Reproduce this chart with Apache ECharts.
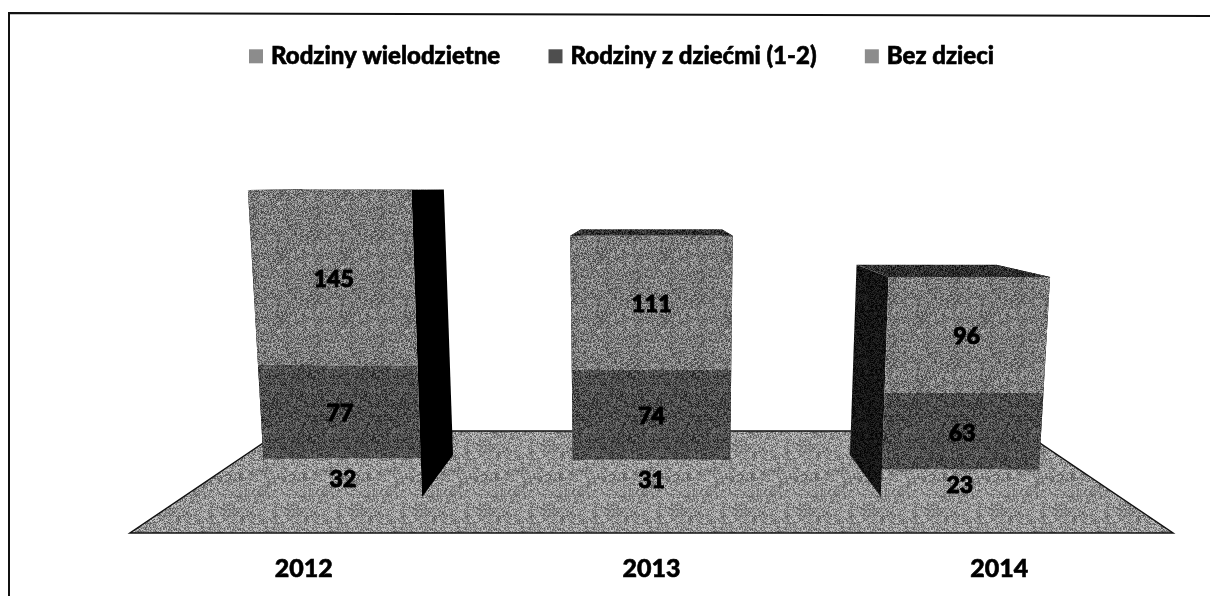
<!DOCTYPE html>
<html>
<head>
<meta charset="utf-8">
<script src="https://cdn.jsdelivr.net/npm/echarts@6/dist/echarts.min.js"></script>
<style>
  html, body { margin: 0; padding: 0; background: #fff; }
  #chart { width: 1210px; height: 596px; }
</style>
</head>
<body>
<div id="chart"></div>
<script>
const years = ["2012", "2013", "2014"];
const bezDzieci = [32, 31, 23];
const zDziecmi = [77, 74, 63];
const wielodzietne = [145, 111, 96];

const FONT = "Lato";
const VANISH_VALUE = 257;   // eye level, in axis units
const DEPTH = 0.135;        // how far back faces go toward the vanishing point

// scanned halftone look: small tile of fixed pseudo noise around a grey level
function grain(level, spread) {
    const size = 64;
    const c = document.createElement("canvas");
    c.width = c.height = size;
    const ctx = c.getContext("2d");
    let s = 12345 + level;
    for (let y = 0; y < size; y++) {
        for (let x = 0; x < size; x++) {
            s = (s * 1103515 + 12345) & 0x7fffffff;
            const g = level - spread + ((s >> 16) % (2 * spread + 1));
            ctx.fillStyle = `rgb(${g},${g},${g})`;
            ctx.fillRect(x, y, 1, 1);
        }
    }
    return { image: c, repeat: "repeat" };
}

const fills = {
    floor: grain(145, 62),
    top: grain(122, 62),
    mid: grain(76, 50),
    low: grain(145, 62),
    cap: grain(48, 40),
    side2014: grain(22, 22)
};

// front plane point: narrows a little toward the base, like the 3D chart
function frontPoint(api, catIdx, value, dir) {
    const center = api.coord([1, 0])[0];
    const band = api.size([1, 0])[0];
    const cat = api.coord([catIdx, 0])[0];
    const k = 0.885 + value * 0.00016;
    const half = band * (0.225 + value * 0.00004);
    return [center + (cat - center) * k + dir * half, api.coord([catIdx, value])[1]];
}

function backPoint(api, p) {
    const vp = api.coord([1, VANISH_VALUE]);
    return [p[0] + (vp[0] - p[0]) * DEPTH, p[1] + (vp[1] - p[1]) * DEPTH];
}

function poly(points, fill) {
    return { type: "polygon", shape: { points }, style: { fill } };
}

function renderShell(params, api) {
    const i = api.value(0);
    const total = api.value(1);
    const lt = frontPoint(api, i, total, -1), rt = frontPoint(api, i, total, 1);
    const lb = frontPoint(api, i, 0, -1), rb = frontPoint(api, i, 0, 1);
    const faces = [
        poly([lt, backPoint(api, lt), backPoint(api, lb), lb], i === 0 ? "#000" : fills.side2014),
        poly([rt, backPoint(api, rt), backPoint(api, rb), rb], i === 0 ? "#000" : fills.side2014),
        poly([lt, backPoint(api, lt), backPoint(api, rt), rt], fills.cap)
    ];
    return { type: "group", children: faces };
}

function segmentRenderer(fill) {
    return function (params, api) {
        const i = api.value(0);
        const from = api.value(1);
        const to = api.value(2);
        const mid = (from + to) / 2;
        const l = frontPoint(api, i, mid, -1), r = frontPoint(api, i, mid, 1);
        return {
            type: "group",
            children: [
                poly([frontPoint(api, i, from, -1), frontPoint(api, i, from, 1),
                      frontPoint(api, i, to, 1), frontPoint(api, i, to, -1)], fill),
                {
                    type: "text",
                    z2: 10,
                    style: {
                        x: (l[0] + r[0]) / 2,
                        y: l[1] + 2,
                        text: String(to - from),
                        fill: "#000",
                        stroke: "#000",
                        lineWidth: 1,
                        font: `900 23px ${FONT}`,
                        align: "center",
                        verticalAlign: "middle"
                    }
                }
            ]
        };
    };
}

function stackRows(values, below) {
    return values.map((v, i) => [i, below[i], below[i] + v]);
}
const above1 = bezDzieci.map((v, i) => v + zDziecmi[i]);
const totals = above1.map((v, i) => v + wielodzietne[i]);

const chart = echarts.init(document.getElementById("chart"), null, { renderer: "canvas" });
chart.setOption({
    animation: false,
    backgroundColor: "#fff",
    legend: {
        data: ["Rodziny wielodzietne", "Rodziny z dziećmi (1-2)", "Bez dzieci"],
        left: 249,
        top: 44,
        padding: 0,
        itemWidth: 14,
        itemHeight: 14,
        itemGap: 48,
        icon: "rect",
        textStyle: {
            color: "#000", fontFamily: FONT, fontWeight: 900, fontSize: 24,
            textBorderColor: "#000", textBorderWidth: 0.6, padding: [0, 0, 0, 3]
        }
    },
    grid: { left: 130, right: 37, top: 98, bottom: 99 },
    xAxis: {
        type: "category",
        data: years,
        axisLine: { show: false },
        axisTick: { show: false },
        axisLabel: {
            color: "#000", fontFamily: FONT, fontWeight: 900, fontSize: 25, margin: 59,
            textBorderColor: "#000", textBorderWidth: 0.6
        }
    },
    yAxis: { type: "value", min: 0, max: 330, show: false },
    graphic: [
        {
            type: "polyline",
            shape: { points: [[9, 596], [9, 13], [1210, 16]] },
            style: { fill: "none", stroke: "#111", lineWidth: 2 }
        },
        {
            type: "polygon",
            shape: { points: [[130, 533], [1173, 533], [1022, 431], [281, 431]] },
            style: { fill: fills.floor, stroke: "#111", lineWidth: 1.5 }
        }
    ],
    series: [
        {
            type: "custom",
            name: "shell",
            data: totals.map((v, i) => [i, v]),
            encode: { x: 0, y: 1 },
            renderItem: renderShell,
            z: 2
        },
        {
            type: "custom",
            name: "Bez dzieci",
            itemStyle: { color: "#8c8c8c" },
            data: stackRows(bezDzieci, years.map(() => 0)),
            encode: { x: 0, y: 2 },
            renderItem: segmentRenderer(fills.low),
            z: 3
        },
        {
            type: "custom",
            name: "Rodziny z dziećmi (1-2)",
            itemStyle: { color: "#4e4e4e" },
            data: stackRows(zDziecmi, bezDzieci),
            encode: { x: 0, y: 2 },
            renderItem: segmentRenderer(fills.mid),
            z: 3
        },
        {
            type: "custom",
            name: "Rodziny wielodzietne",
            itemStyle: { color: "#8c8c8c" },
            data: stackRows(wielodzietne, above1),
            encode: { x: 0, y: 2 },
            renderItem: segmentRenderer(fills.top),
            z: 3
        }
    ]
});
</script>
</body>
</html>
